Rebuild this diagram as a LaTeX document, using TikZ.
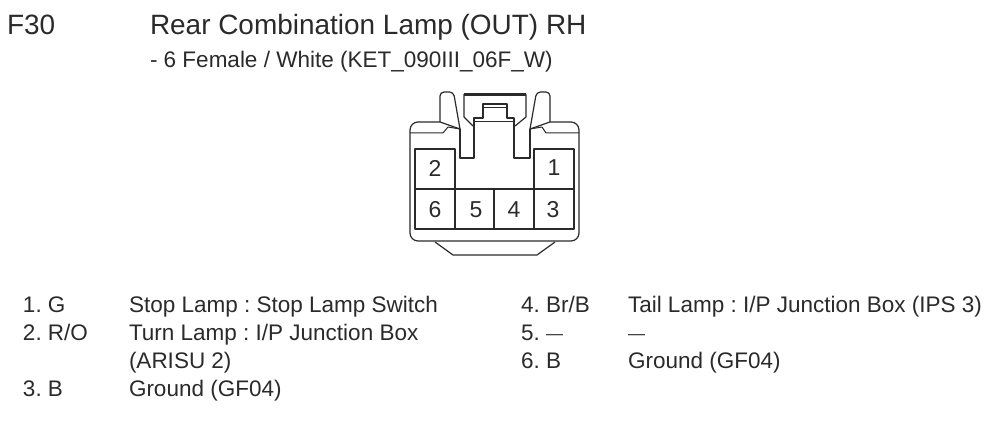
\documentclass[tikz,border=0pt]{standalone}
\usepackage{fontspec}
\setmainfont{Liberation Sans}
\frenchspacing
\definecolor{ink}{HTML}{2A2A2A}
\newcommand{\shortdash}{\raisebox{1pt}{\fontsize{17}{18}\selectfont —}}
\tikzset{
  x=1pt,y=-1pt,
  txt/.style={anchor=base west,inner sep=0pt,outer sep=0pt,text=ink,font=\fontsize{22.5}{26}\selectfont},
  head/.style={txt,font=\fontsize{27.95}{32}\selectfont},
  sub/.style={txt,font=\fontsize{22.5}{26}\selectfont},
  pin/.style={anchor=center,inner sep=0pt,text=ink,font=\fontsize{23}{26}\selectfont},
  part/.style={draw=ink,line width=1.2pt,line join=round},
  thin part/.style={draw=ink,line width=1pt,line join=round}
}
\begin{document}
\begin{tikzpicture}
\useasboundingbox (0,0) rectangle (987,427);
% texts
\node[head] (code) at (7,35) {F30};
\node[head] (title) at (150,35) {Rear Combination Lamp (OUT) RH};
\node[sub] (subt) at (150,67.5) {- 6 Female / White (KET\_090III\_06F\_W)};
% connector body
\draw[part] (460,129) -- (440,122);
\draw[part] (530,129) -- (550,122);
\draw[part,rounded corners=8pt] (440,122) -- (410,122) -- (410,241) -- (579,241) -- (579,122) -- (550,122);
\draw[thin part] (410,133) -- (443,133) -- (448,127) -- (460,129);
\draw[thin part] (579,133) -- (546,133) -- (542,127) -- (530,129);
% bottom key
\draw[part] (435,242) -- (453,255) -- (537,255) -- (555,242);
% latches
\draw[part,rounded corners=4pt] (440,122) -- (440,92) -- (453.5,92) -- (460,129);
\draw[part,rounded corners=4pt] (550,122) -- (550,92) -- (536.5,92) -- (530,129);
\draw[part] (460,129) -- (460,158) -- (474,158) -- (474,118) -- (483,118) -- (483,104) -- (507,104) -- (507,118) -- (514,118) -- (514,158) -- (530,158) -- (530,129);
% clip tab
\draw[part] (473,126) -- (464,117) -- (464,94.5) -- (526,94.5) -- (526,117) -- (515,126);
\draw[draw=ink,line width=2.4pt] (464,94.5) -- (526,94.5);
\draw[thin part] (483,108) -- (507,108);
\draw[thin part] (474,121.5) -- (514,121.5);
% cavities
\draw[part] (415,149) rectangle (455,229);
\draw[part] (534,149) rectangle (574,229);
\draw[part] (415,189) -- (574,189);
\draw[part] (415,229) -- (574,229);
\draw[part] (494,189) -- (494,229);
\node[pin] (p2) at (435,168) {2};
\node[pin] (p1) at (554,168) {1};
\node[pin] (p6) at (435,210) {6};
\node[pin] (p5) at (476,210) {5};
\node[pin] (p4) at (514,210) {4};
\node[pin] (p3) at (553,210) {3};
% list
\node[txt] (a1) at (23,312.5) {1. G};
\node[txt] (b1) at (129,312.5) {Stop Lamp : Stop Lamp Switch};
\node[txt] (a2) at (23,340.5) {2. R/O};
\node[txt] (b2) at (129,340.5) {Turn Lamp : I/P Junction Box};
\node[txt] (b2x) at (129,368.5) {(ARISU 2)};
\node[txt] (a3) at (23,396.5) {3. B};
\node[txt] (b3) at (129,396.5) {Ground (GF04)};
\node[txt] (a4) at (521,312.5) {4. Br/B};
\node[txt] (b4) at (628,312.5) {Tail Lamp : I/P Junction Box (IPS 3)};
\node[txt] (a5) at (521,340.5) {5. \shortdash};
\node[txt] (b5) at (628,340.5) {\shortdash};
\node[txt] (a6) at (521,368.5) {6. B};
\node[txt] (b6) at (628,368.5) {Ground (GF04)};
\end{tikzpicture}
\end{document}
